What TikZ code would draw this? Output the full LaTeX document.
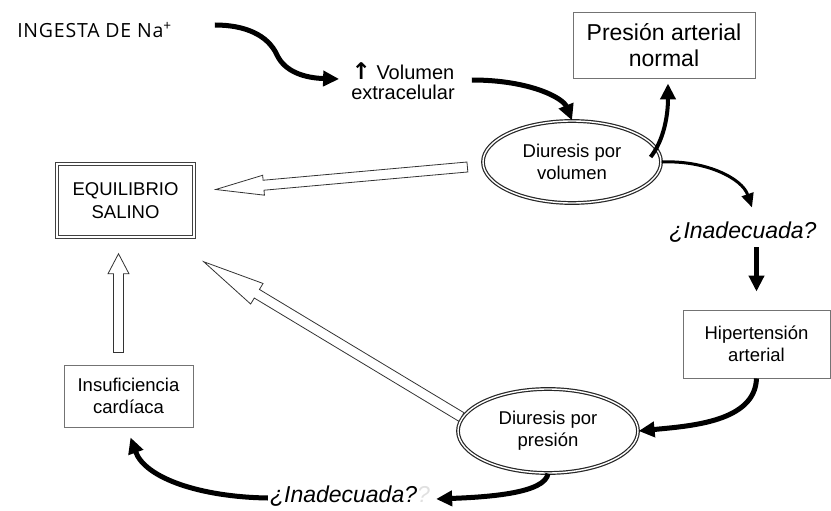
\documentclass[tikz,border=0pt]{standalone}
\usepackage{fontspec}
\setmainfont{Liberation Sans}
\newfontfamily\ingestafont[LetterSpace=4]{Open Sans}
\newfontfamily\symfont{DejaVu Sans}
\usetikzlibrary{arrows.meta, calc, shapes.geometric}

% hollow block arrow: tail, tip, half shaft, head length, half head
\newcommand{\openarrow}[5]{%
  \coordinate (oa-h) at ($(#2)!#4!(#1)$);
  \draw[hollow] ($(#1)!#3!90:(#2)$) -- ($(oa-h)!#3!90:(#2)$) -- ($(oa-h)!#5!90:(#2)$) -- (#2)
    -- ($(oa-h)!#5!-90:(#2)$) -- ($(oa-h)!#3!-90:(#2)$) -- ($(#1)!#3!-90:(#2)$) -- cycle;}

\begin{document}
\begin{tikzpicture}[x=1pt, y=-1pt,
    txt/.style={inner sep=0pt, align=center},
    box/.style={draw=black!55, line width=0.9pt, align=center, inner sep=0pt, font=\fontsize{18.5}{22}\selectfont},
    dbox/.style={draw=black!75, double=white, double distance=1.5pt, line width=1.5pt, align=center, inner sep=0pt, font=\fontsize{18.5}{23}\selectfont},
    oval/.style={ellipse, draw=black!85, double=white, double distance=1.4pt, line width=1.2pt, align=center, inner sep=0pt, font=\fontsize{18.5}{22}\selectfont},
    ask/.style={inner sep=0pt, font=\fontsize{23}{26}\selectfont\itshape},
    flow/.style={line width=5pt, -{Triangle[length=16pt, width=15pt]}},
    hollow/.style={draw=black!80, line width=0.8pt, fill=white, line join=miter}]
    \useasboundingbox (0,0) rectangle (831,511);

    \node[txt, font=\ingestafont\fontsize{19.5}{22}\selectfont] (ingesta) at (94.5,30) {INGESTA DE Na\textsuperscript{+}};
    \node[txt, font=\fontsize{20}{20}\selectfont] (vol) at (403,81) {{\symfont\bfseries\fontsize{23}{20}\selectfont ↑} Volumen\\extracelular};
    \node[oval, minimum width=178pt, minimum height=82pt] (dvol) at (572,162) {Diuresis por\\volumen};
    \node[box, minimum width=182pt, minimum height=66pt, font=\fontsize{23}{26}\selectfont] (pnorm) at (664,45) {Presión arterial\\normal};
    \node[ask] (inad1) at (743,232) {¿Inadecuada?};
    \node[box, minimum width=147pt, minimum height=68pt] (hyp) at (756.5,344) {Hipertensión\\arterial};
    \node[oval, minimum width=180pt, minimum height=84pt] (dpres) at (548,431) {Diuresis por\\presión};
    \node[ask] (inad2) at (350,496) {¿Inadecuada?{\color{black!12}?}};
    \node[box, minimum width=129pt, minimum height=62pt] (insuf) at (128.5,396) {Insuficiencia\\cardíaca};
    \node[dbox, minimum width=137pt, minimum height=73pt] (equil) at (125.5,200.5) {EQUILIBRIO\\SALINO};

    \draw[flow] ($(ingesta.east)+(43,-5)$) .. controls (245,25) and (268,35) .. (277,55)
        .. controls (285,72) and (305,78) .. ($(vol.west)+(-12,-2)$);
    \draw[flow] ($(vol.east)+(17,-1)$) .. controls (530,80) and (563,98) .. (dvol.north);
    \draw[flow, line width=4pt] ($(dvol.east)+(-11,-5)$) .. controls (664,140) and (668,115) .. ($(pnorm.south)+(4,5)$);
    \draw[flow, line width=3pt, -{Triangle[length=14pt, width=12pt]}] (dvol.east) .. controls (705,160) and (742,178) .. ($(inad1.north)+(9,-14)$);
    \draw[flow] ($(inad1.south -| hyp.north)+(0,5)$) -- ($(hyp.north)+(0,-18)$);
    \draw[flow] (hyp.south) .. controls (755,422) and (690,426) .. (dpres.east);
    \draw[flow] (dpres.south) .. controls (545,493) and (490,497) .. ($(inad2.east)+(6,3)$);
    \draw[flow] ($(inad2.west)+(-2,2)$) .. controls (200,497) and (145,478) .. ($(insuf.south)+(2,10)$);

    \coordinate (volTail) at ($(dvol.west)+(-15,5)$);
    \coordinate (eqTipA) at ($(equil.east)+(21,-11)$);
    \coordinate (presTail) at ($(dpres.west)+(4,-14)$);
    \coordinate (eqTipB) at ($(equil.south east)+(9,24)$);
    \coordinate (insTail) at ($(insuf.north)+(-10,-12)$);
    \coordinate (eqTipC) at ($(equil.south)+(-7,16)$);
    \openarrow{volTail}{eqTipA}{5pt}{48pt}{10pt}
    \openarrow{presTail}{eqTipB}{5pt}{62pt}{12pt}
    \openarrow{insTail}{eqTipC}{5pt}{20pt}{10.5pt}
\end{tikzpicture}
\end{document}
